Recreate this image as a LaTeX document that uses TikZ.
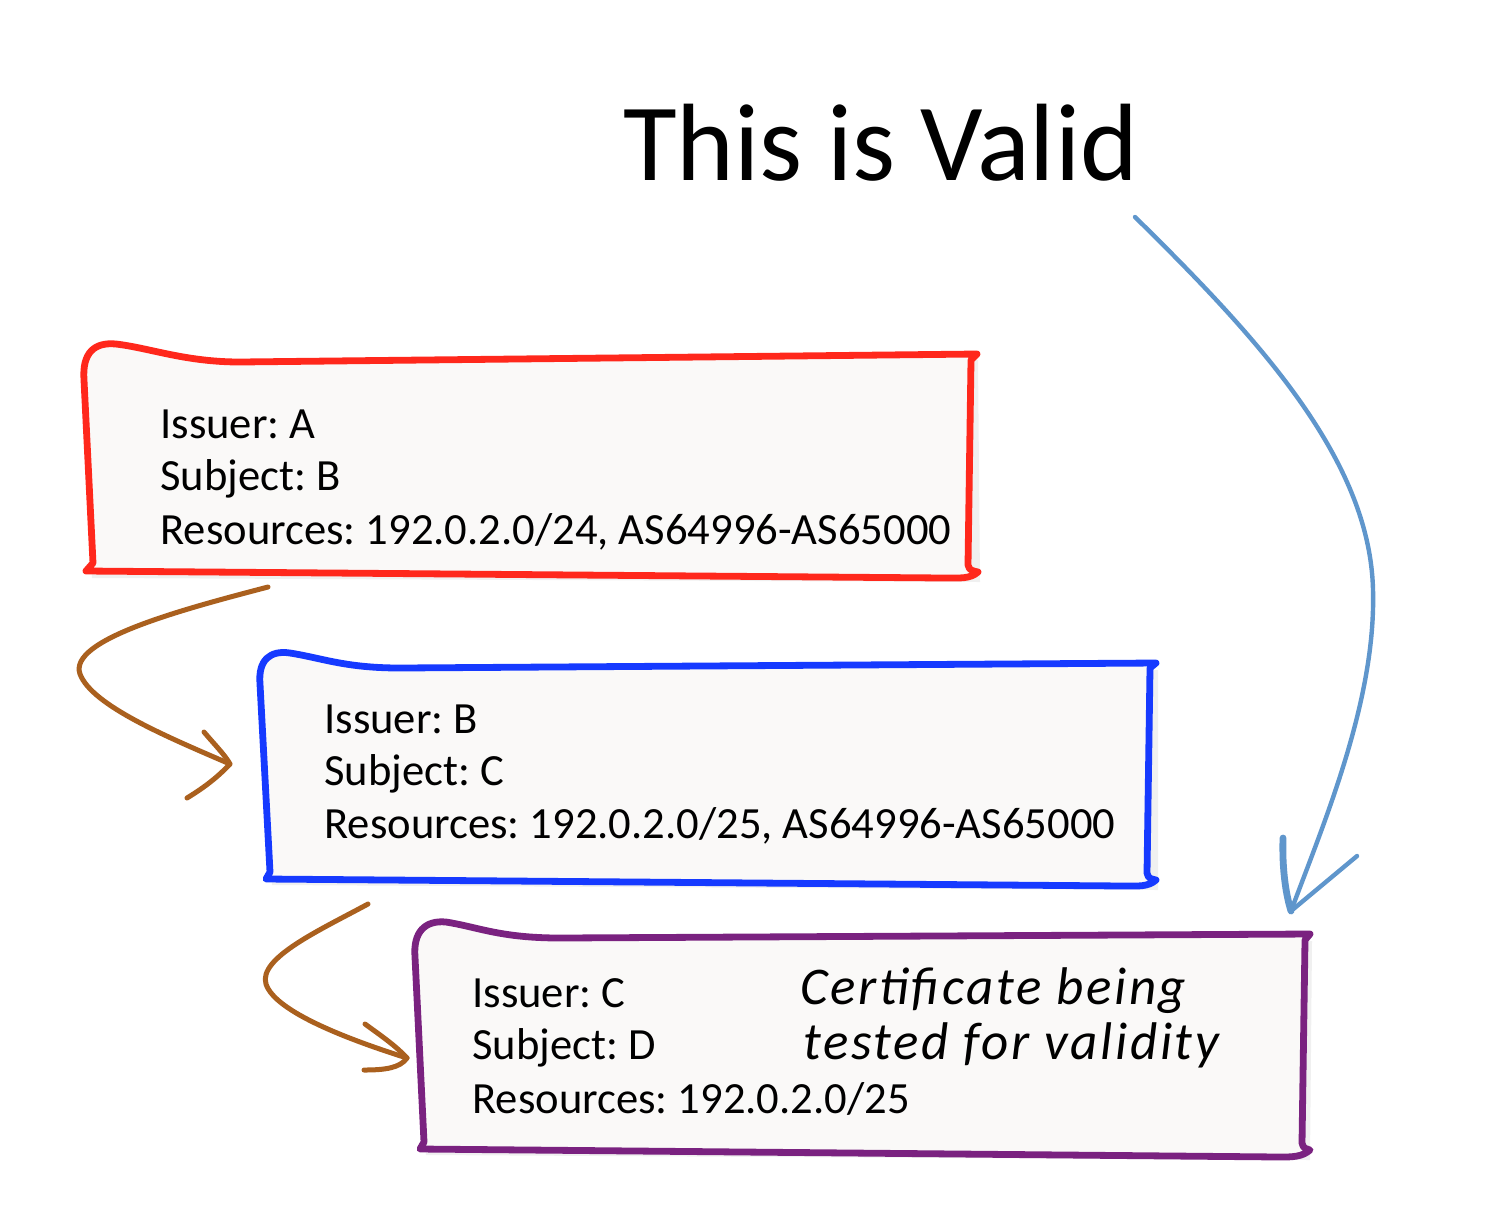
\documentclass[tikz,border=0pt]{standalone}
\usepackage{fontspec}
\setmainfont{Carlito}
\frenchspacing
\begin{document}
\begin{tikzpicture}[x=0.5pt,y=-0.5pt,line join=round,line cap=round]
\definecolor{cred}{RGB}{255,40,28}
\definecolor{cblue}{RGB}{22,58,255}
\definecolor{cpurple}{RGB}{122,34,128}
\definecolor{cbrown}{RGB}{170,96,30}
\definecolor{carrow}{RGB}{95,150,204}
\definecolor{cfill}{RGB}{250,249,248}
\tikzset{
  boxline/.style={line width=3.4pt,fill=cfill},
  shadowline/.style={fill=black,opacity=0.06,draw=none},
  boxtext/.style={anchor=base west,inner sep=0pt,font=\fontsize{22.3pt}{27pt}\selectfont},
  handtext/.style={anchor=base west,inner sep=0pt,font=\fontsize{26.5pt}{30pt}\selectfont\itshape\addfontfeatures{LetterSpace=5}},
  brownarrow/.style={draw=cbrown,line width=2.5pt},
  bluearrow/.style={draw=carrow,line width=2.2pt},
}
\useasboundingbox (0,0) rectangle (1498,1222);
\fill[white] (0,0) rectangle (1498,1222);

% title
\node[anchor=base west,inner sep=0pt,font=\fontsize{55pt}{61pt}\selectfont] (title) at (623,180) {This is Valid};

% red box
\path[shadowline] (88,385) -- (978,360) -- (980,582) -- (92,578) -- cycle;
\draw[boxline,draw=cred] (84,380) .. controls (82,352) and (95,342) .. (116,344)
  .. controls (150,348) and (185,362) .. (240,362)
  -- (977,354) -- (971,360)
  -- (968,565) .. controls (969,571) and (974,571) .. (978,572)
  .. controls (970,579) and (960,578) .. (945,578)
  -- (86,571) -- (93,563) -- cycle;
\node[boxtext] (r1) at (160,438) {Issuer: A};
\node[boxtext] (r2) at (160,490) {Subject: B};
\node[boxtext] (r3) at (160,544) {Resources: 192.0.2.0/24, AS64996-AS65000};

% blue box
\path[shadowline] (264,688) -- (1158,670) -- (1158,890) -- (272,885) -- cycle;
\draw[boxline,draw=cblue] (260,684) .. controls (258,660) and (270,650) .. (290,653)
  .. controls (322,658) and (345,668) .. (400,668)
  -- (1156,663) -- (1150,668)
  -- (1147,873) .. controls (1148,879) and (1152,879) .. (1156,880)
  .. controls (1148,887) and (1138,886) .. (1125,886)
  -- (266,879) -- (270,872) -- cycle;
\node[boxtext] (u1) at (324,733) {Issuer: B};
\node[boxtext] (u2) at (324,785) {Subject: C};
\node[boxtext] (u3) at (324,838) {Resources: 192.0.2.0/25, AS64996-AS65000};

% purple box
\path[shadowline] (420,960) -- (1312,941) -- (1310,1160) -- (426,1155) -- cycle;
\draw[boxline,draw=cpurple] (415,957) .. controls (413,932) and (425,920) .. (446,922)
  .. controls (478,927) and (500,938) .. (560,938)
  -- (1310,934) -- (1305,940)
  -- (1302,1143) .. controls (1303,1149) and (1307,1149) .. (1310,1150)
  .. controls (1302,1157) and (1292,1157) .. (1280,1157)
  -- (420,1149) -- (424,1142) -- cycle;
\node[boxtext] (p1) at (472,1007) {Issuer: C};
\node[boxtext] (p2) at (472,1059) {Subject: D};
\node[boxtext] (p3) at (472,1113) {Resources: 192.0.2.0/25};
\node[handtext] (h1) at (800,1004) {Certificate being};
\node[handtext] (h2) at (803,1059) {tested for validity};

% brown arrow 1
\coordinate (a1s) at (268,587);
\coordinate (a1t) at (230,764);
\coordinate (a1u) at (204,732);
\coordinate (a1l) at (187,798);
\draw[brownarrow] (a1s) .. controls (180,610) and (68,640) .. (80,674)
  .. controls (92,706) and (170,738) .. (a1t);
\draw[brownarrow] (a1u) .. controls (215,745) and (225,755) .. (a1t)
  .. controls (215,780) and (200,790) .. (a1l);

% brown arrow 2
\coordinate (a2s) at (368,904);
\coordinate (a2t) at (407,1058);
\coordinate (a2u) at (365,1024);
\coordinate (a2l) at (364,1070);
\draw[brownarrow] (a2s) .. controls (320,930) and (258,958) .. (266,984)
  .. controls (275,1012) and (350,1040) .. (a2t);
\draw[brownarrow] (a2u) .. controls (380,1035) and (395,1045) .. (a2t)
  .. controls (400,1068) and (385,1070) .. (a2l);

% blue arrow
\coordinate (bs) at (1135,217);
\coordinate (bt) at (1291,911);
\coordinate (bu) at (1283,838);
\coordinate (bl) at (1357,856);
\draw[bluearrow] (bs) .. controls (1260,340) and (1370,460) .. (1373,590)
  .. controls (1376,700) and (1325,820) .. (bt);
\draw[bluearrow,line width=3.4pt] (bu) .. controls (1282,870) and (1286,895) .. (bt);
\draw[bluearrow] (bt) -- (bl);
\end{tikzpicture}
\end{document}
